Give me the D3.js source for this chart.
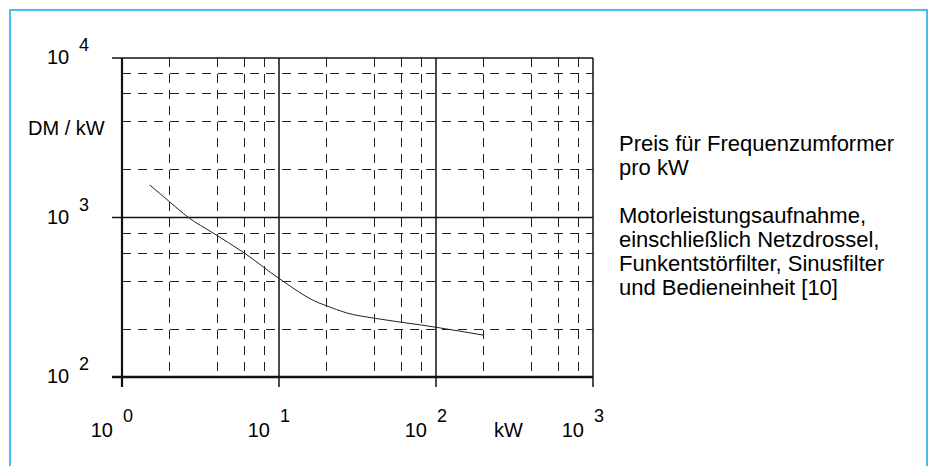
<!DOCTYPE html>
<meta charset="utf-8">
<style>

body {
  margin: 0;
  background: #fff;
}

text {
  font-family: "Liberation Sans", Arial, sans-serif;
  fill: #000;
}

.frame {
  fill: none;
  stroke: #45c0ee;
  stroke-width: 2;
}

.grid-minor line {
  stroke: #222;
  stroke-width: 1;
  stroke-dasharray: 9,7;
}

.grid-major line {
  stroke: #111;
  stroke-width: 1.5;
}

.curve {
  fill: none;
  stroke: #222;
  stroke-width: 1;
}

</style>
<svg width="933" height="466"></svg>
<script src="https://cdn.jsdelivr.net/npm/d3@7"></script>
<script>

// x: Leistung in kW, y: Preis in DM/kW
var kw    = [1.5, 2, 2.65, 3.8, 6, 10, 18, 20, 27, 40, 80, 100, 200];
var price = [1600, 1260, 1000, 800, 600, 415, 291, 280, 252, 234, 212, 205, 183];

var xDecades = [0, 1, 2, 3];
var yDecades = [2, 3, 4];
var minorSteps = [2, 4, 6, 8];

var noteLines = ["Preis für Frequenzumformer", "pro kW", "",
                 "Motorleistungsaufnahme,", "einschließlich Netzdrossel,",
                 "Funkentstörfilter, Sinusfilter", "und Bedieneinheit [10]"];

var svg = d3.select("svg");

svg.append("rect")
    .attr("class", "frame")
    .attr("x", 10)
    .attr("y", 10)
    .attr("width", 917)
    .attr("height", 480);

var plotLeft = 122, plotRight = 593, plotTop = 58, plotBottom = 377;

var x = d3.scaleLog()
    .domain([1, 1000])
    .range([plotLeft, plotRight]);

var y = d3.scaleLog()
    .domain([100, 10000])
    .range([plotBottom, plotTop]);

var xMinor = [], yMinor = [];
[1, 10, 100].forEach(function(d) {
  minorSteps.forEach(function(s) { xMinor.push(d * s); });
});
[100, 1000].forEach(function(d) {
  minorSteps.forEach(function(s) { yMinor.push(d * s); });
});

// dashed grid
svg.append("g")
    .attr("class", "grid-minor")
  .selectAll("line")
  .data(xMinor)
  .enter().append("line")
    .attr("x1", function(d) { return Math.round(x(d)) + 0.5; })
    .attr("x2", function(d) { return Math.round(x(d)) + 0.5; })
    .attr("y1", plotTop)
    .attr("y2", plotBottom);

svg.append("g")
    .attr("class", "grid-minor")
  .selectAll("line")
  .data(yMinor)
  .enter().append("line")
    .attr("y1", function(d) { return Math.round(y(d)) + 0.5; })
    .attr("y2", function(d) { return Math.round(y(d)) + 0.5; })
    .attr("x1", plotLeft)
    .attr("x2", plotRight);

// solid decade lines, with short stubs outside the plot
var major = svg.append("g").attr("class", "grid-major");

major.selectAll(".vx")
  .data(xDecades)
  .enter().append("line")
    .attr("class", "vx")
    .attr("x1", function(d) { return x(Math.pow(10, d)); })
    .attr("x2", function(d) { return x(Math.pow(10, d)); })
    .attr("y1", plotTop)
    .attr("y2", plotBottom + 10)
    .style("stroke-width", function(d) { return d === 0 ? 2.2 : 1.5; });

major.selectAll(".hy")
  .data(yDecades)
  .enter().append("line")
    .attr("class", "hy")
    .attr("y1", function(d) { return y(Math.pow(10, d)); })
    .attr("y2", function(d) { return y(Math.pow(10, d)); })
    .attr("x1", plotLeft - 10)
    .attr("x2", plotRight)
    .style("stroke-width", function(d) { return d === 2 ? 2.5 : 1.5; });

// curve
var line = d3.line()
    .x(function(d, i) { return x(kw[i]); })
    .y(function(d) { return y(d); })
    .curve(d3.curveMonotoneX);

svg.append("path")
    .datum(price)
    .attr("class", "curve")
    .attr("d", line);

// axis labels 10^n
var xl = svg.append("g").selectAll("g")
  .data(xDecades)
  .enter().append("g")
    .attr("transform", function(d) { return "translate(" + x(Math.pow(10, d)) + ",0)"; });

xl.append("text")
    .attr("x", -9)
    .attr("y", 437)
    .attr("text-anchor", "end")
    .style("font-size", "20px")
    .text("10");

xl.append("text")
    .attr("x", 1)
    .attr("y", 422)
    .style("font-size", "18px")
    .text(function(d) { return d; });

var yl = svg.append("g").selectAll("g")
  .data(yDecades)
  .enter().append("g")
    .attr("transform", function(d) { return "translate(0," + y(Math.pow(10, d)) + ")"; });

yl.append("text")
    .attr("x", 47)
    .attr("y", 6)
    .style("font-size", "20px")
    .text("10");

yl.append("text")
    .attr("x", 79)
    .attr("y", -7)
    .style("font-size", "18px")
    .text(function(d) { return d; });

svg.append("text")
    .attr("x", 494)
    .attr("y", 437)
    .style("font-size", "20px")
    .text("kW");

svg.append("text")
    .attr("x", 28)
    .attr("y", 135)
    .style("font-size", "20px")
    .text("DM / kW");

// note on the right
svg.append("g").selectAll("text")
  .data(noteLines)
  .enter().append("text")
    .attr("x", 619)
    .attr("y", function(d, i) { return 151 + i * 24; })
    .style("font-size", "22px")
    .text(function(d) { return d; });

</script>
